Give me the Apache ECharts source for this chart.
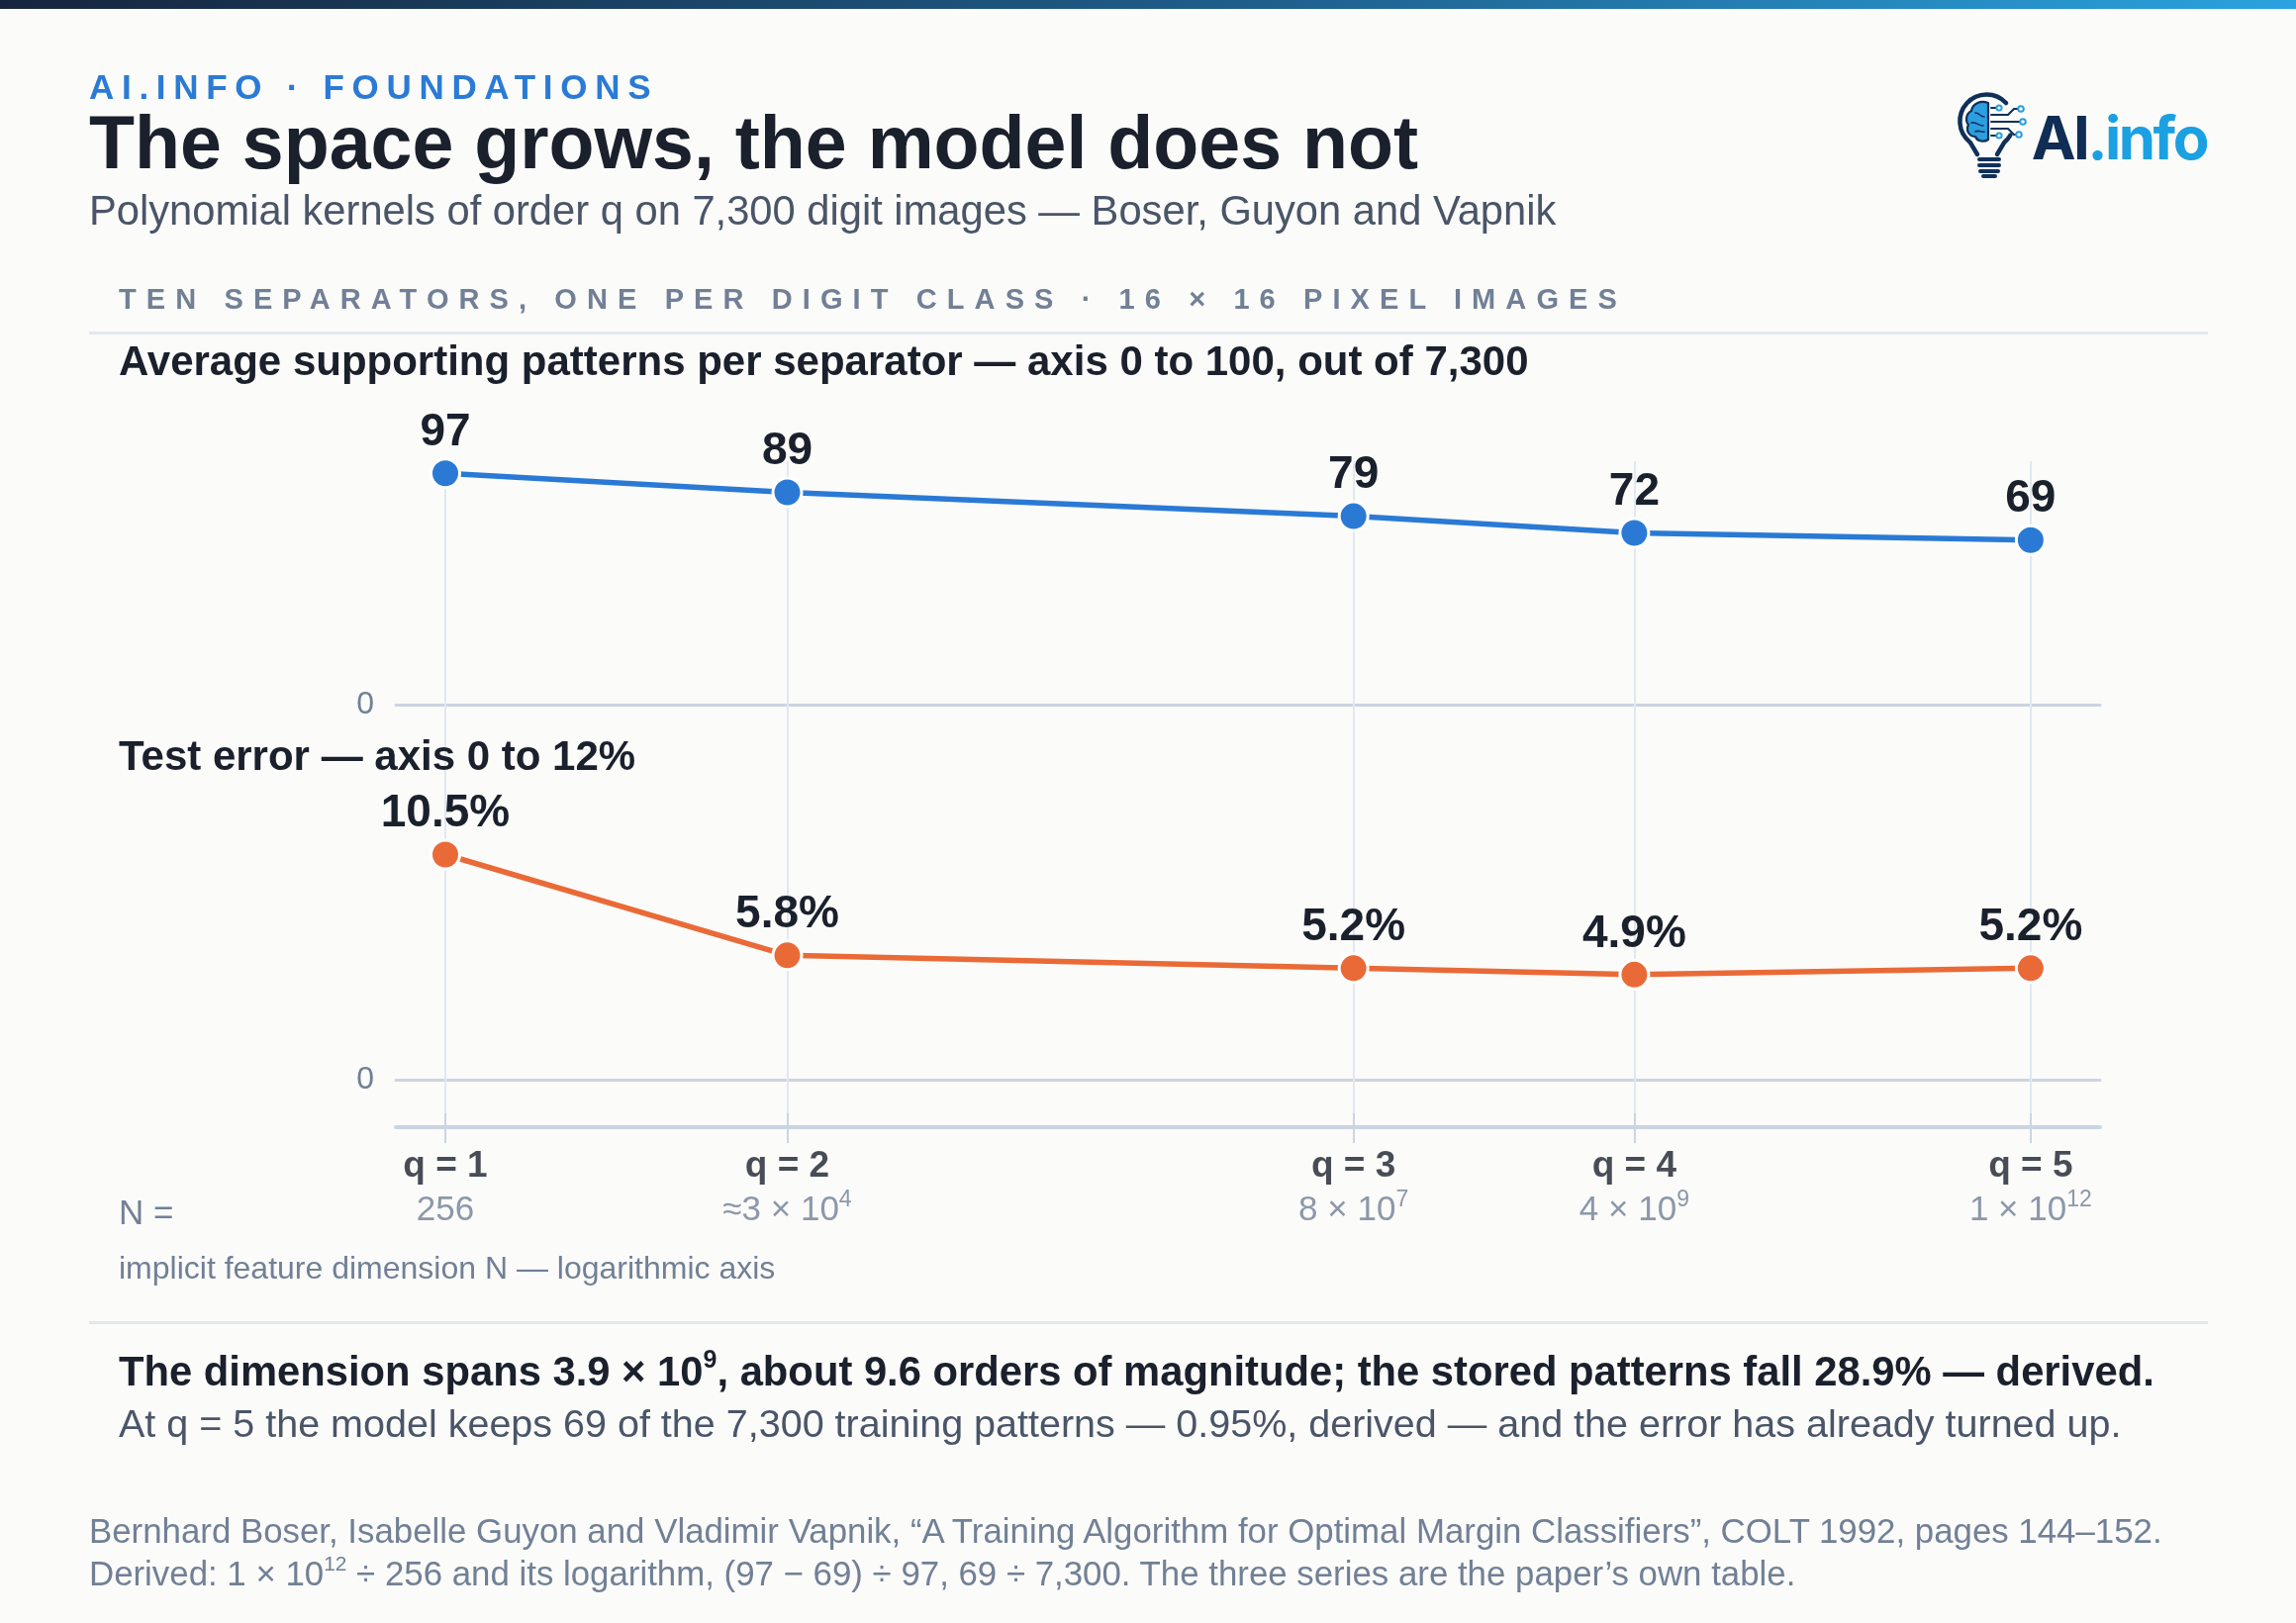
<!DOCTYPE html>
<html>
<head>
<meta charset="utf-8">
<title>The space grows, the model does not</title>
<script src="https://cdn.jsdelivr.net/npm/echarts@6.0.0/dist/echarts.min.js"></script>
<style>
  html, body { margin: 0; padding: 0; background: #fbfbf9; }
  body { width: 2320px; height: 1640px; position: relative; overflow: hidden;
         font-family: "Liberation Sans", Arial, sans-serif; }
  #chart { position: absolute; left: 0; top: 0; width: 2320px; height: 1640px; }
  .t { position: absolute; white-space: nowrap; line-height: 1; }
  .topbar { position: absolute; left: 0; top: 0; width: 2320px; height: 9px;
            background: linear-gradient(90deg, #16253d, #1f5f8c 55%, #2aa3de); }
  .rule { position: absolute; left: 90px; width: 2141px; height: 3px; background: #e2e8f0; }
  sup { font-size: 0.6em; line-height: 0; vertical-align: 0.7em; }
  .logo { position: absolute; left: 1972px; top: 92px; width: 85px; height: 92px; }
  .logotext { position: absolute; right: 90px; top: 109px; font-family: Inter, "Open Sans", sans-serif;
              font-weight: 700; font-size: 60px; line-height: 1; letter-spacing: -2.5px; }
</style>
</head>
<body>
<div class="topbar"></div>
<div id="chart"></div>

<div class="t" style="left:90px;top:70px;font-size:35px;font-weight:700;letter-spacing:7.7px;color:#2b7bd6">AI.INFO · FOUNDATIONS</div>
<div class="t" style="left:90px;top:107px;font-size:75.3px;font-weight:700;color:#1a202c">The space grows, the model does not</div>
<div class="t" style="left:90px;top:192px;font-size:41.7px;color:#4a5568">Polynomial kernels of order q on 7,300 digit images — Boser, Guyon and Vapnik</div>
<div class="t" style="left:120px;top:288px;font-size:29px;font-weight:700;letter-spacing:10.1px;color:#718096">TEN SEPARATORS, ONE PER DIGIT CLASS · 16 × 16 PIXEL IMAGES</div>
<div class="rule" style="top:335px"></div>

<svg class="logo" viewBox="0 0 85 92">
  <g fill="none" stroke="#10305a" stroke-width="4.5" stroke-linecap="round" stroke-linejoin="round">
    <path d="M55 12 A27 27 0 1 0 18.6 51.7 L26 64"/>
    <path d="M59.4 44.5 A27 27 0 0 1 53.4 51.7 L46 64"/>
  </g>
  <g fill="#10305a">
    <rect x="26" y="67" width="24" height="4" rx="2"/>
    <rect x="26" y="73" width="24" height="4" rx="2"/>
    <rect x="27" y="79" width="22" height="4" rx="2"/>
    <rect x="30" y="84" width="16" height="4" rx="2"/>
  </g>
  <path d="M37 12 C29 9 21 13 20 20 C14 23 14 31 17 34 C14 40 18 46 24 46 C26 51 33 52 37 49 Z"
        fill="#2b9fe0" stroke="#10305a" stroke-width="2.2" stroke-linejoin="round"/>
  <g fill="none" stroke="#10305a" stroke-width="1.6" stroke-linecap="round">
    <path d="M37 13 L37 49"/>
    <path d="M24 22 C28 22 29 26 33 26"/>
    <path d="M20 32 C25 31 27 35 32 35"/>
    <path d="M24 41 C27 39 30 42 33 41"/>
  </g>
  <g fill="none" stroke="#10305a" stroke-width="2" stroke-linecap="round">
    <path d="M40 17 L45 17"/>
    <path d="M40 24 L57 24 L63 18 L67 18"/>
    <path d="M40 31 L69 31"/>
    <path d="M40 38 L57 38 L63 44 L65 44"/>
    <path d="M40 45 L45 45"/>
  </g>
  <g fill="#fbfbf9" stroke="#2b9fe0" stroke-width="2">
    <circle cx="48" cy="17" r="2.6"/>
    <circle cx="70" cy="18" r="2.8"/>
    <circle cx="72" cy="31" r="2.8"/>
    <circle cx="68" cy="44" r="2.8"/>
    <circle cx="48" cy="45" r="2.6"/>
  </g>
</svg>
<div class="logotext"><span style="color:#0f2d55">AI</span><span style="color:#1ba0e2">.info</span></div>

<div class="t" style="left:120px;top:344px;font-size:42px;font-weight:700;color:#1a202c">Average supporting patterns per separator — axis 0 to 100, out of 7,300</div>
<div class="t" style="left:120px;top:743px;font-size:42px;font-weight:700;color:#1a202c">Test error — axis 0 to 12%</div>
<div class="t" style="left:120px;top:1207px;font-size:35px;color:#718096">N =</div>
<div class="t" style="left:120px;top:1265px;font-size:32px;color:#718096">implicit feature dimension N — logarithmic axis</div>

<div class="rule" style="top:1335px"></div>
<div class="t" style="left:120px;top:1365px;font-size:41.75px;font-weight:700;color:#1a202c">The dimension spans 3.9 × 10<sup>9</sup>, about 9.6 orders of magnitude; the stored patterns fall 28.9% — derived.</div>
<div class="t" style="left:120px;top:1419px;font-size:39.5px;color:#4a5568">At q = 5 the model keeps 69 of the 7,300 training patterns — 0.95%, derived — and the error has already turned up.</div>
<div class="t" style="left:90px;top:1530px;font-size:34.85px;color:#718096">Bernhard Boser, Isabelle Guyon and Vladimir Vapnik, “A Training Algorithm for Optimal Margin Classifiers”, COLT 1992, pages 144–152.</div>
<div class="t" style="left:90px;top:1573px;font-size:34.85px;color:#718096">Derived: 1 × 10<sup>12</sup> ÷ 256 and its logarithm, (97 − 69) ÷ 97, 69 ÷ 7,300. The three series are the paper’s own table.</div>

<script>
// data from the paper's table
const orders = ['q = 1', 'q = 2', 'q = 3', 'q = 4', 'q = 5'];
const dimension = [256, 3e4, 8e7, 4e9, 1e12];
const dimensionBase = ['256', '≈3 × 10', '8 × 10', '4 × 10', '1 × 10'];
const dimensionExp = ['', '4', '7', '9', '12'];
const supportPatterns = [97, 89, 79, 72, 69];
const testError = [10.5, 5.8, 5.2, 4.9, 5.2];

const FONT = '"Liberation Sans", Arial, sans-serif';
const BLUE = '#2a7ad5';
const ORANGE = '#ea6a37';
const X_MIN = 128.5, X_MAX = 2.63e12;

function logAxis(gridIndex, axisLine) {
  return {
    type: 'log', logBase: 10, gridIndex: gridIndex, min: X_MIN, max: X_MAX,
    axisLine: axisLine || { show: false },
    axisTick: { show: false }, axisLabel: { show: false }, splitLine: { show: false }
  };
}

function zeroAxis(gridIndex, max) {
  return {
    type: 'value', gridIndex: gridIndex, min: 0, max: max, interval: max,
    axisLine: { show: false }, axisTick: { show: false }, splitLine: { show: false },
    axisLabel: { showMaxLabel: false, color: '#718096', fontSize: 32, fontFamily: FONT, margin: 22 }
  };
}

function hiddenAxis(gridIndex) {
  return { type: 'value', gridIndex: gridIndex, min: 0, max: 1, show: false };
}

const dataLabel = {
  show: true, position: 'top', distance: 2,
  fontSize: 46, fontWeight: 'bold', color: '#1a202c', fontFamily: FONT
};

const chart = echarts.init(document.getElementById('chart'), null, { renderer: 'canvas' });

const option = {
  animation: false,
  backgroundColor: 'transparent',
  grid: [
    { left: 400, right: 198, top: 471, height: 241 },   // support patterns
    { left: 400, right: 198, top: 831, height: 260 },   // test error
    { left: 400, right: 198, top: 466, height: 673 },   // guide lines + x axis
    { left: 400, right: 198, top: 1125, height: 30 }    // ticks + labels
  ],
  xAxis: [
    logAxis(0, { show: true, lineStyle: { color: '#cbd5e0', width: 3 } }),
    logAxis(1, { show: true, lineStyle: { color: '#cbd5e0', width: 3 } }),
    logAxis(2, { show: true, lineStyle: { color: '#cbd5e0', width: 4 } }),
    logAxis(3)
  ],
  yAxis: [zeroAxis(0, 100), zeroAxis(1, 12), hiddenAxis(2), hiddenAxis(3)],
  series: [
    {
      type: 'scatter', xAxisIndex: 2, yAxisIndex: 2, z: 1, silent: true, symbolSize: 0,
      data: dimension.map(n => [n, 0]),
      markLine: {
        z: 1, silent: true, symbol: 'none', label: { show: false },
        lineStyle: { color: '#e2e8f0', width: 2, type: 'solid' },
        data: dimension.map(n => ({ xAxis: n }))
      }
    },
    {
      type: 'scatter', xAxisIndex: 3, yAxisIndex: 3, z: 1, silent: true, symbolSize: 0,
      data: dimension.map(n => [n, 0]),
      label: {
        show: true, position: 'bottom', distance: 1,
        formatter: p => '{q|' + orders[p.dataIndex] + '}\n{n|' + dimensionBase[p.dataIndex] + '}' +
          (dimensionExp[p.dataIndex] ? '{s|' + dimensionExp[p.dataIndex] + '}' : ''),
        rich: {
          q: { fontSize: 37, fontWeight: 'bold', color: '#1a202c', lineHeight: 45, fontFamily: FONT },
          n: { fontSize: 35, color: '#718096', lineHeight: 45, fontFamily: FONT },
          s: { fontSize: 23, color: '#718096', lineHeight: 26, verticalAlign: 'top', fontFamily: FONT }
        }
      },
      markLine: {
        z: 1, silent: true, symbol: 'none', label: { show: false },
        lineStyle: { color: '#cbd5e0', width: 2, type: 'solid' },
        data: dimension.map(n => ({ xAxis: n }))
      }
    },
    {
      name: 'Supporting patterns', type: 'line', xAxisIndex: 0, yAxisIndex: 0, z: 3,
      data: dimension.map((n, i) => [n, supportPatterns[i]]),
      symbol: 'circle', symbolSize: 29,
      lineStyle: { color: BLUE, width: 5.5 },
      itemStyle: { color: BLUE, borderColor: '#ffffff', borderWidth: 3 },
      label: Object.assign({ formatter: p => String(p.value[1]) }, dataLabel)
    },
    {
      name: 'Test error', type: 'line', xAxisIndex: 1, yAxisIndex: 1, z: 3,
      data: dimension.map((n, i) => [n, testError[i]]),
      symbol: 'circle', symbolSize: 29,
      lineStyle: { color: ORANGE, width: 5.5 },
      itemStyle: { color: ORANGE, borderColor: '#ffffff', borderWidth: 3 },
      label: Object.assign({ formatter: p => p.value[1].toFixed(1) + '%' }, dataLabel)
    }
  ]
};

chart.setOption(option);
</script>
</body>
</html>
